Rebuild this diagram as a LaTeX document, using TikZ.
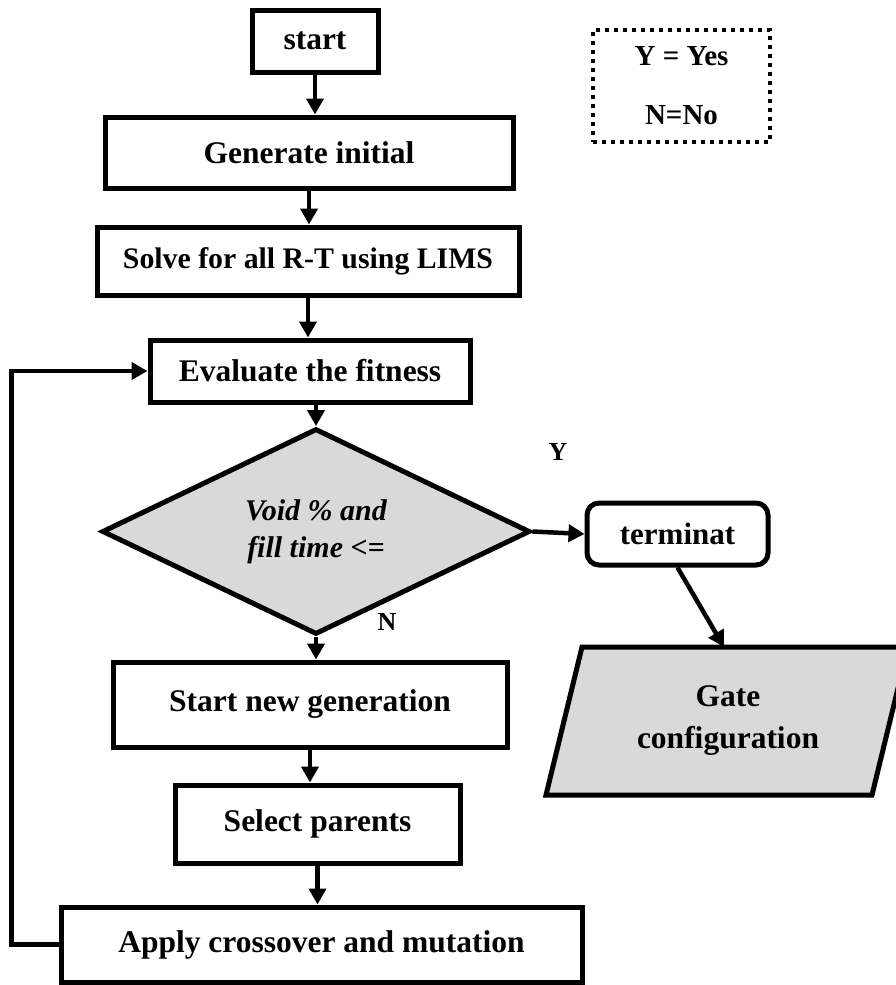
\documentclass[tikz,border=0pt]{standalone}
\usepackage{fontspec}
\setmainfont{Liberation Serif}
\usetikzlibrary{arrows.meta,shapes.geometric}
\begin{document}
\begin{tikzpicture}[x=1pt,y=-1pt]
	\tikzset{block/.style = {shape=rectangle, draw, line width=5pt, fill=white, inner sep=0pt, font=\bfseries\fontsize{31.5}{36}\selectfont},
		decision/.style = {shape=diamond, draw, line width=5pt, fill=black!15, inner sep=0pt, align=center, font=\bfseries\itshape\fontsize{30}{37}\selectfont},
		arrow/.style = {line width=4.5pt, -{Triangle[length=16pt,width=17pt]}},
		tag/.style = {inner sep=0pt, font=\bfseries\fontsize{26}{30}\selectfont}}

	\useasboundingbox (0,0) rectangle (896,985);

	\node[block, minimum width=126pt, minimum height=62pt] (start) at (315,41) {start};
	\node[block, minimum width=408pt, minimum height=71pt] (init) at (309,152.5) {Generate initial};
	\node[block, minimum width=422pt, minimum height=68pt, font=\bfseries\fontsize{29.8}{36}\selectfont] (solve) at (308,261) {Solve for all R-T using LIMS};
	\node[block, minimum width=320pt, minimum height=62pt] (eval) at (310,371) {Evaluate the fitness};
	\node[decision, minimum width=428pt, minimum height=183pt] (cond) at (316,531.5) {Void \% and\\fill time <=};
	\node[block, rounded corners=12pt, minimum width=181pt, minimum height=62pt, font=\bfseries\fontsize{31}{36}\selectfont] (term) at (677.5,534) {terminat};
	\node[block, minimum width=394pt, minimum height=85pt] (newgen) at (310,704.5) {Start new generation};
	\node[block, minimum width=285pt, minimum height=78pt] (select) at (317.5,824) {Select parents};
	\node[block, minimum width=521pt, minimum height=75pt] (apply) at (321.5,944.5) {Apply crossover and mutation};

	\draw[line width=5pt, fill=black!15] (546,795) -- (582,647) -- (908,647) -- (872,795) -- cycle;
	\node[align=center, inner sep=0pt, font=\bfseries\fontsize{31.5}{42}\selectfont] (gate) at (728,721) {Gate\\configuration};
	\coordinate (gatein) at (724,647);

	\node[draw, line width=4pt, dash pattern=on 4pt off 5pt, minimum width=177pt, minimum height=112pt, inner sep=0pt, align=center, font=\bfseries\fontsize{29}{59}\selectfont] (legend) at (681.5,86) {Y = Yes\\N=No};

	\node[tag] (yes) at (558,452) {Y};
	\node[tag] (no) at (387,622) {N};

	\draw[arrow] (start) -- (start |- init.north);
	\draw[arrow] (init) -- (init |- solve.north);
	\draw[arrow] (solve) -- (solve |- eval.north);
	\draw[arrow] (cond |- eval.south) -- (cond);
	\draw[arrow] (cond.east) -- (term.west);
	\draw[arrow] (term.south) -- (gatein);
	\draw[arrow] (cond) -- (cond |- newgen.north);
	\draw[arrow] (newgen) -- (newgen |- select.north);
	\draw[arrow] (select) -- (select |- apply.north);
	\draw[arrow] (apply.west) -- ++(-47,0) |- (eval.west);

\end{tikzpicture}
\end{document}
